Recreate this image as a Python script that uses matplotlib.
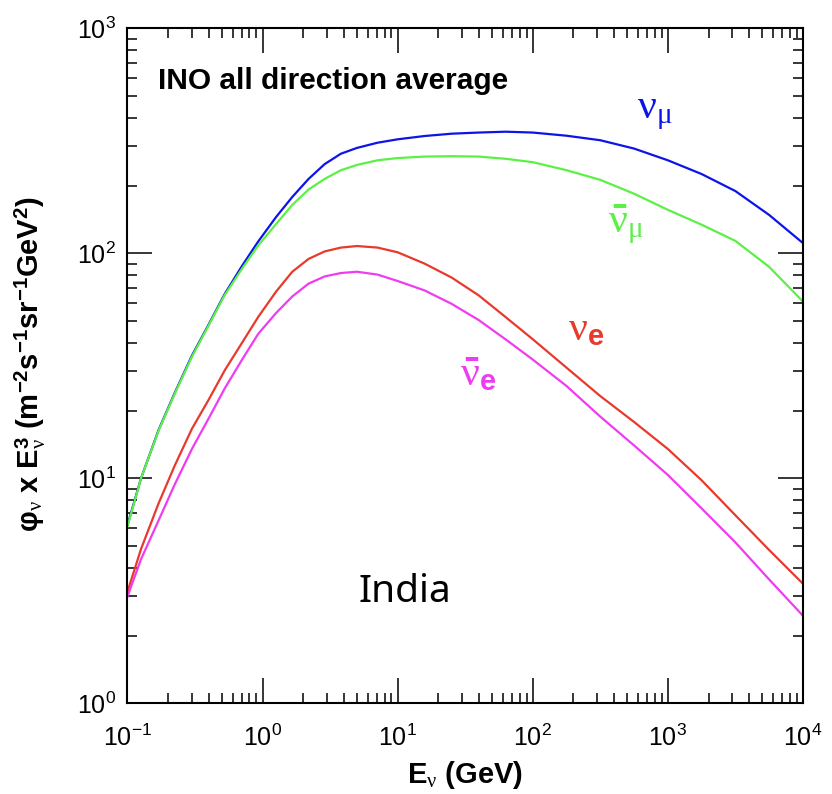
import numpy as np
import matplotlib
matplotlib.use('Agg')
import matplotlib.pyplot as plt
from matplotlib.ticker import LogLocator, NullFormatter

plt.rcParams['font.family'] = ['Liberation Sans', 'DejaVu Sans']
plt.rcParams['mathtext.fontset'] = 'custom'
plt.rcParams['mathtext.rm'] = 'Liberation Sans:bold'
plt.rcParams['mathtext.bf'] = 'Liberation Sans:bold'
plt.rcParams['mathtext.sf'] = 'Liberation Serif'
plt.rcParams['mathtext.it'] = 'Liberation Serif:italic'

# neutrino energy (GeV)
energy = [0.1, 0.126, 0.17, 0.224, 0.30, 0.40, 0.525, 0.71, 0.93, 1.26,
          1.66, 2.19, 2.88, 3.8, 5.0, 7.1, 10, 15.8, 25.1, 39.8,
          63.1, 100, 178, 316, 562, 1000, 1778, 3162, 5623, 10000]

# phi * E^3 for each flavour (m^-2 s^-1 sr^-1 GeV^2)
nu_mu = [6.2, 10.0, 16.4, 24.0, 35.1, 48.4, 66, 88.5, 113, 145,
         178, 214, 249, 277, 294, 310, 321, 332, 340, 344,
         347, 344, 333, 318, 292, 259, 225, 189, 148, 111]
nu_mu_bar = [6.1, 10.0, 16.3, 23.8, 34.7, 48, 65.3, 86, 108.4, 135,
             164, 192, 214, 234, 247, 259, 265, 269, 270, 269,
             263, 254, 234, 212, 184, 156, 134, 113.5, 87, 61]
nu_e = [3.13, 4.85, 7.74, 11.4, 16.6, 22.4, 30.2, 40.3, 52.2, 67.6,
        82.8, 94.4, 101.9, 106, 107.7, 106, 101, 90, 78, 65,
        52, 41.5, 31, 23.2, 17.8, 13.5, 9.8, 6.85, 4.8, 3.4]
nu_e_bar = [2.98, 4.37, 6.5, 9.4, 13.5, 18.5, 25.1, 33.9, 43.9, 54.3,
            64.3, 73.3, 78.9, 81.7, 82.8, 80.4, 75.3, 68.4, 59.6, 50.5,
            41.4, 33.7, 25.7, 18.8, 14, 10.35, 7.35, 5.19, 3.55, 2.45]

c_blue = '#0d14e8'
c_green = '#5cf046'
c_red = '#e83a2c'
c_mag = '#f03cf0'

fig = plt.figure(figsize=(8.32, 7.94), dpi=100)
ax = fig.add_axes([0.1532, 0.1142, 0.8119, 0.8502])

ax.plot(energy, nu_mu, color=c_blue, lw=1.6)
ax.plot(energy, nu_mu_bar, color=c_green, lw=1.6)
ax.plot(energy, nu_e, color=c_red, lw=1.6)
ax.plot(energy, nu_e_bar, color=c_mag, lw=1.6)

ax.set_xscale('log')
ax.set_yscale('log')
ax.set_xlim(0.1, 1e4)
ax.set_ylim(1, 1e3)

ax.xaxis.set_major_locator(LogLocator(base=10, numticks=10))
ax.yaxis.set_major_locator(LogLocator(base=10, numticks=10))
ax.xaxis.set_minor_locator(LogLocator(base=10, subs=np.arange(2, 10), numticks=20))
ax.yaxis.set_minor_locator(LogLocator(base=10, subs=np.arange(2, 10), numticks=20))
ax.xaxis.set_minor_formatter(NullFormatter())
ax.yaxis.set_minor_formatter(NullFormatter())

ax.tick_params(which='both', direction='in', top=True, right=True, width=1.1, color='black')
ax.tick_params(which='major', length=18, labelsize=18)
ax.tick_params(axis='x', which='major', pad=15)
ax.tick_params(axis='y', which='major', pad=8)
ax.tick_params(which='minor', length=7)
for s in ax.spines.values():
    s.set_linewidth(1.5)

ax.set_xlabel(r'E$_{\mathsf{\nu}}$ (GeV)', fontsize=21, fontweight='bold', labelpad=6)
ax.set_ylabel(r'φ$_{\mathsf{\nu}}$ x E$_{\mathsf{\nu}}^{3}$ '
              r'(m$^{-2}$s$^{-1}$sr$^{-1}$GeV$^{2}$)',
              fontsize=21, fontweight='bold')
ax.yaxis.set_label_coords(-0.117, 0.503)

fig.text(158 / 832, 1 - 89 / 794, 'INO all direction average', fontsize=21.5,
         fontweight='bold', ha='left', va='baseline')

# curve labels
fig.text(637 / 832, 1 - 118 / 794, r'$\mathsf{\nu}_{\mathsf{\mu}}$', fontsize=30,
         color=c_blue, ha='left', va='baseline')
fig.text(608 / 832, 1 - 232 / 794, r'$\bar{\mathsf{\nu}}_{\mathsf{\mu}}$', fontsize=30,
         color=c_green, ha='left', va='baseline')
fig.text(568 / 832, 1 - 340 / 794, r'$\mathsf{\nu}_{\mathbf{e}}$', fontsize=30,
         color=c_red, ha='left', va='baseline')
fig.text(460 / 832, 1 - 385 / 794, r'$\bar{\mathsf{\nu}}_{\mathbf{e}}$', fontsize=30,
         color=c_mag, ha='left', va='baseline')

fig.text(405 / 832, 1 - 602 / 794, 'India', fontsize=28, family='Noto Sans',
         ha='center', va='baseline')

fig.savefig('out.png', dpi=100)
